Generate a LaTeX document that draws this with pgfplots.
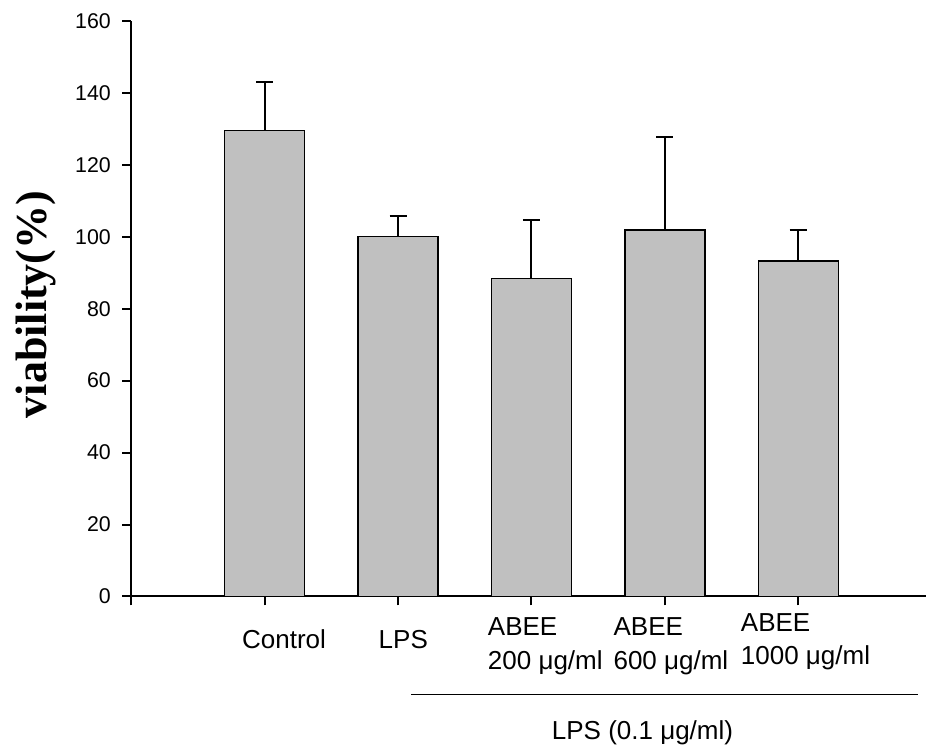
\documentclass[border=0pt]{standalone}
\usepackage{fontspec}
\setmainfont{Liberation Sans}
\newfontfamily\timesfont{Liberation Serif}
\usepackage{pgfplots}
\pgfplotsset{compat=1.18}
\definecolor{barfill}{HTML}{C0C0C0}
\pgfplotstableread{
x y e
1 129.6 13.4
2 100.0 5.8
3 88.4 16.2
4 101.9 25.7
5 93.3 8.7
}\viab
\begin{document}
\begin{tikzpicture}
\useasboundingbox (-98.625pt,-114.375pt) rectangle (595.875pt,447.375pt);
\begin{axis}[
  at={(0,0)}, anchor=south west,
  x=100pt, y=2.698pt,
  xmin=0, xmax=5.959, ymin=0, ymax=160,
  axis x line*=bottom, axis y line*=left,
  axis line style={line width=1.5pt, black},
  xtick={0,1,2,3,4,5}, xticklabels={,,,,,},
  ytick={0,20,...,160},
  yticklabels={0,20,40,60,80,100,120,140,160},
  tick align=outside, major tick length=6.75pt,
  tick style={line width=1.5pt, black},
  yticklabel style={font=\fontsize{16}{19}\selectfont, inner sep=0pt, anchor=east, xshift=-8.6pt},
  every axis y label/.style={at={(axis description cs:-0.1067,0.5074)}, rotate=90, anchor=base},
  ylabel={\timesfont\bfseries\fontsize{33}{38}\selectfont viability(\%)},
  ybar, bar width=60pt,
  clip=false,
]
\addplot[fill=barfill, draw=black, line width=1pt,
  error bars/.cd, y dir=plus, y explicit,
  error bar style={line width=1.5pt, black},
  error mark options={rotate=90, mark size=6.4pt, line width=1.5pt, black}]
  table[x=x, y=y, y error=e] {\viab};
\end{axis}
\begin{scope}[every node/.style={inner sep=0pt, font=\fontsize{19.5}{23}\selectfont}]
\node[anchor=base] at (114.375pt,-39.375pt) {Control};
\node[anchor=base] at (203.85pt,-39.375pt) {LPS};
\node[anchor=base west] at (267.15pt,-29.625pt) {ABEE};
\node[anchor=base west] at (267.15pt,-54.6pt) {200 μg/ml};
\node[anchor=base west] at (361.35pt,-29.625pt) {ABEE};
\node[anchor=base west] at (361.35pt,-54.6pt) {600 μg/ml};
\node[anchor=base west] at (456.9pt,-26.4pt) {ABEE};
\node[anchor=base west] at (456.9pt,-51.375pt) {1000 μg/ml};
\draw[line width=1.1pt] (209.625pt,-73.35pt) -- (589.65pt,-73.35pt);
\node[anchor=base] at (383.25pt,-107.1pt) {LPS (0.1 μg/ml)};
\end{scope}
\end{tikzpicture}
\end{document}
